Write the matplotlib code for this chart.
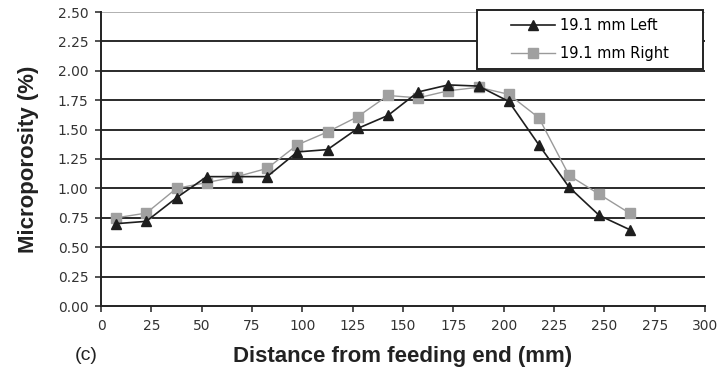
import matplotlib.pyplot as plt
from matplotlib.patches import Rectangle

plt.rcParams['font.family'] = ['Liberation Sans', 'DejaVu Sans']

# distance from feeding end (mm)
distance = [7.5, 22.5, 37.5, 52.5, 67.5, 82.5, 97.5, 112.5, 127.5,
            142.5, 157.5, 172.5, 187.5, 202.5, 217.5, 232.5, 247.5, 262.5]
left = [0.70, 0.72, 0.92, 1.10, 1.10, 1.10, 1.31, 1.33, 1.51,
        1.62, 1.82, 1.88, 1.87, 1.74, 1.37, 1.01, 0.77, 0.65]
right = [0.75, 0.79, 1.00, 1.05, 1.10, 1.17, 1.37, 1.48, 1.61,
         1.79, 1.77, 1.83, 1.86, 1.80, 1.60, 1.11, 0.95, 0.79]

xticks = list(range(0, 301, 25))
yticks = [i * 0.25 for i in range(11)]

fig = plt.figure(figsize=(7.21, 3.73), dpi=100)
ax = fig.add_axes([101 / 721, 1 - 306 / 373, 604 / 721, 294 / 373])

for y in yticks[1:]:
    ax.axhline(y, color='#b0b0b0' if y == 2.5 else '#2a2a2a', lw=1.4, zorder=1)

ax.plot(distance, right, color='#9a9a9a', lw=1.0, marker='s', ms=7,
        markerfacecolor='#a0a0a0', markeredgecolor='#a0a0a0', label='19.1 mm Right', zorder=3)
ax.plot(distance, left, color='#1e1e1e', lw=1.2, marker='^', ms=7.5,
        markerfacecolor='#1e1e1e', markeredgecolor='#1e1e1e', label='19.1 mm Left', zorder=4)

ax.set_xlim(0, 300)
ax.set_ylim(0, 2.5)
ax.set_xticks(xticks)
ax.set_yticks(yticks)
ax.set_yticklabels(['%.2f' % v for v in yticks])
ax.tick_params(direction='out', length=4, width=1.2, labelsize=10, colors='#333333', pad=5)
for lab in ax.get_xticklabels() + ax.get_yticklabels():
    lab.set_family('DejaVu Sans')
for s in ['top', 'right']:
    ax.spines[s].set_visible(False)
for s in ['left', 'bottom']:
    ax.spines[s].set_linewidth(1.4)
    ax.spines[s].set_color('#222222')

ax.set_ylabel('Microporosity (%)', fontsize=16, fontweight='bold', color='#222222')
ax.set_xlabel('Distance from feeding end (mm)', fontsize=16, fontweight='bold', color='#222222')
ax.yaxis.set_label_coords(-0.103, 0.5)
ax.xaxis.set_label_coords(0.5, -0.135)
fig.text(75 / 721, 1 - 355 / 373, '(c)', fontsize=14, va='center', ha='left', color='#222222')

# legend box
ax.add_patch(Rectangle((0.6225, 0.806), 0.3742, 0.201, transform=ax.transAxes,
                       facecolor='white', edgecolor='#222222', lw=1.4, zorder=5, clip_on=False))
handles, labels = ax.get_legend_handles_labels()
leg = ax.legend(handles[::-1], labels[::-1], loc='center', bbox_to_anchor=(0.8096, 0.9065),
                prop={'family': 'DejaVu Sans', 'size': 10.5}, frameon=False,
                handlelength=3.0, handletextpad=0.4, labelspacing=0.85)
leg.set_zorder(6)

fig.savefig('out.png', dpi=100)
